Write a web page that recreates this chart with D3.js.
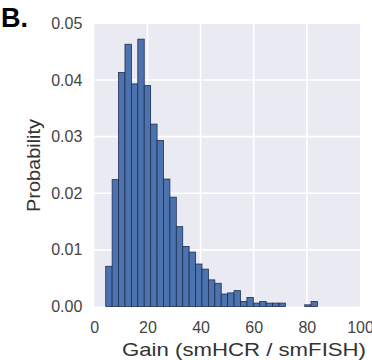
<!DOCTYPE html>
<meta charset="utf-8">
<style>
body { margin: 0; background: #fff; }
text { font-family: "Liberation Sans", Arial, sans-serif; }
.tick text { fill: #444; font-size: 16px; }
.lab { fill: #333; font-size: 19px; }
</style>
<svg width="372" height="360"></svg>
<script src="https://cdn.jsdelivr.net/npm/d3@7/dist/d3.min.js"></script>
<script>

// histogram: 33 equal bins from 4.3 to 84.0
var binStart = 4.3, binEnd = 84.0;
var density = [0.0071, 0.0224, 0.0413, 0.0463, 0.0393, 0.0472, 0.0390, 0.0322,
               0.0293, 0.0225, 0.0193, 0.0141, 0.0106, 0.0096, 0.0075, 0.0066,
               0.0047, 0.0041, 0.0022, 0.0024, 0.0028, 0.0009, 0.0016, 0.0006,
               0.0009, 0.0006, 0.0006, 0.0006, 0, 0, 0, 0.0003, 0.0009];
var xTicks = [0, 20, 40, 60, 80, 100];
var yTicks = [0.00, 0.01, 0.02, 0.03, 0.04, 0.05];

var svg = d3.select("svg");
var pLeft = 94.3, pRight = 360, pTop = 23.3, pBottom = 306.5;

var x = d3.scaleLinear().domain([0, 100]).range([pLeft, pRight]);
var y = d3.scaleLinear().domain([0, 0.05]).range([pBottom, pTop]);

var w = (binEnd - binStart) / density.length;
var bins = density.map(function(d, i) {
  return {x0: binStart + i * w, x1: binStart + (i + 1) * w, v: d};
});

// background + grid
svg.append("rect")
    .attr("x", pLeft).attr("y", pTop)
    .attr("width", pRight - pLeft).attr("height", pBottom - pTop)
    .attr("fill", "#eaeaf2");

svg.append("g").selectAll("line")
    .data(xTicks.slice(1, -1))
    .enter().append("line")
      .attr("x1", x).attr("x2", x)
      .attr("y1", pTop).attr("y2", pBottom)
      .attr("stroke", "#fff").attr("stroke-width", 1.6);

svg.append("g").selectAll("line")
    .data(yTicks.slice(1))
    .enter().append("line")
      .attr("x1", pLeft).attr("x2", pRight)
      .attr("y1", y).attr("y2", y)
      .attr("stroke", "#fff").attr("stroke-width", 1.6);

// bars
svg.append("g").selectAll("rect")
    .data(bins.filter(function(d) { return d.v > 0; }))
    .enter().append("rect")
      .attr("x", function(d) { return x(d.x0); })
      .attr("width", function(d) { return x(d.x1) - x(d.x0); })
      .attr("y", function(d) { return y(d.v); })
      .attr("height", function(d) { return pBottom - y(d.v); })
      .attr("fill", "#4c72b0")
      .attr("stroke", "#1f2f4f")
      .attr("stroke-width", 0.8);

// axes (no lines, just labels)
var xAxis = svg.append("g")
    .attr("transform", "translate(0," + (pBottom + 3) + ")")
    .call(d3.axisBottom(x).tickValues(xTicks).tickSize(0).tickPadding(12).tickFormat(d3.format("d")));
xAxis.select(".domain").remove();

var yAxis = svg.append("g")
    .attr("transform", "translate(" + (pLeft - 1) + ",0)")
    .call(d3.axisLeft(y).tickValues(yTicks).tickSize(0).tickPadding(11).tickFormat(d3.format(".2f")));
yAxis.select(".domain").remove();

svg.selectAll(".tick text").attr("font-family", null);

svg.append("text")
    .attr("class", "lab")
    .attr("x", 244).attr("y", 356)
    .attr("text-anchor", "middle")
    .attr("textLength", 244)
    .attr("lengthAdjust", "spacingAndGlyphs")
    .text("Gain (smHCR / smFISH)");

svg.append("text")
    .attr("class", "lab")
    .attr("transform", "translate(39.5,165.5) rotate(-90)")
    .attr("text-anchor", "middle")
    .attr("textLength", 93)
    .attr("lengthAdjust", "spacingAndGlyphs")
    .text("Probability");

svg.append("text")
    .attr("x", 1).attr("y", 27)
    .attr("font-size", 27).attr("font-weight", "bold")
    .attr("fill", "#000")
    .text("B.");

</script>
